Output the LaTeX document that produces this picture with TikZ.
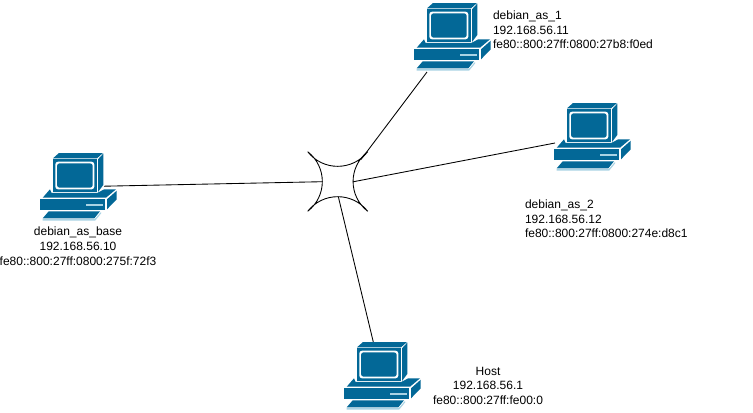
\documentclass[tikz,border=0pt]{standalone}
\usepackage{fontspec}
\setmainfont{Liberation Sans}
\definecolor{pcblue}{HTML}{036897}
\definecolor{pclight}{HTML}{A9D3E4}
\tikzset{
  px/.style={x=0.75pt,y=-0.75pt},
  link/.style={draw=black,line width=0.65pt},
  hubline/.style={draw=black,line width=0.65pt},
  pcslot/.style={minimum width=57.75pt,minimum height=51.75pt,inner sep=0pt,outer sep=0pt,anchor=north west},
  lbl/.style={inner sep=0pt,outer sep=0pt,font=\fontsize{9}{10.95}\selectfont},
  pics/computer/.style={code={
    \fill[pcblue] (13,6.3)--(19,1)--(63,1)--(57,6.3)--cycle;
    \fill[pcblue] (12.7,7.3) rectangle (56.7,40);
    \fill[white,rounded corners=2pt] (15.3,9.7) rectangle (54.3,37.3);
    \fill[pcblue,rounded corners=2pt] (17,11.3) rectangle (52.7,35.7);
    \fill[pcblue] (58,7.3)--(63.3,1.6)--(63.3,33)--(58,40)--cycle;
    \fill[pcblue] (2.7,45.7)--(10,37.3)--(11.5,40.8)--(57.5,40.8)--(64.3,37.3)--(76,37.3)--(66,45.7)--cycle;
    \fill[pcblue] (0,47.3) rectangle (65.3,58);
    \fill[pcblue] (67,47.3)--(76.7,38.7)--(76.7,47.3)--(67,57.3)--cycle;
    \fill[pclight] (46,52.3) rectangle (62.7,54);
    \fill[pcblue] (2.7,66.3)--(8.7,59.3)--(60,59.3)--(54.3,66.3)--cycle;
    \fill[pclight] (2.7,67.2)--(54.6,67.2)--(61,60)--(61,61.5)--(55.2,68.6)--(2.7,68.6)--cycle;
  }}
}
\begin{document}
\begin{tikzpicture}[px]
\useasboundingbox[fill=white] (0,0) rectangle (753,412);
% placeholders
\node[pcslot] (pcone)  at (414,2) {};
\node[pcslot] (pctwo)  at (554,102) {};
\node[pcslot] (pcbase) at (40,152) {};
\node[pcslot] (pchost) at (344,341) {};
% hub
\coordinate (hubnw) at (307.7,151.7);
\coordinate (hubne) at (367.7,151.7);
\coordinate (hubse) at (367.7,211.3);
\coordinate (hubsw) at (307.7,211.3);
\coordinate (hubc)  at (337.7,181.5);
\draw[hubline] (hubnw) .. controls (322.9,171.2) and (352.5,171.2) .. (hubne)
               .. controls (348.2,166.9) and (348.2,196.1) .. (hubse)
               .. controls (352.5,191.8) and (322.9,191.8) .. (hubsw)
               .. controls (327.2,196.1) and (327.2,166.9) .. (hubnw);
\node[inner sep=0pt,minimum size=0pt] (hub) at (hubc) {};
% ports
\coordinate (hubportone)  at (361,159.5);
\coordinate (hubporttwo)  at (353,181.8);
\coordinate (hubportbase) at (322.3,181.7);
\coordinate (hubporthost) at (338.3,196.6);
\coordinate (portone)  at (427,72);
\coordinate (porttwo)  at (555,143);
\coordinate (portbase) at (104,186.2);
\coordinate (porthost) at (373.3,342);
\draw[link] (portone) -- (hubportone);
\draw[link] (porttwo) -- (hubporttwo);
\draw[link] (portbase) -- (hubportbase);
\draw[link] (porthost) -- (hubporthost);
% icons
\pic at (pcone.north west) {computer};
\pic at (pctwo.north west) {computer};
\pic at (pcbase.north west) {computer};
\pic at (pchost.north west) {computer};
% labels
\node[lbl,align=left,anchor=north west] (lblone) at (493,10.7) {debian\_as\_1\\192.168.56.11\\fe80::800:27ff:0800:27b8:f0ed};
\node[lbl,align=left,anchor=north west] (lbltwo) at (525,199.9) {debian\_as\_2\\192.168.56.12\\fe80::800:27ff:0800:274e:d8c1};
\node[lbl,align=center,anchor=north] (lblbase) at (78,227.2) {debian\_as\_base\\192.168.56.10\\fe80::800:27ff:0800:275f:72f3};
\node[lbl,align=center,anchor=north] (lblhost) at (488,366.9) {Host\\192.168.56.1\\fe80::800:27ff:fe00:0};
\end{tikzpicture}
\end{document}
